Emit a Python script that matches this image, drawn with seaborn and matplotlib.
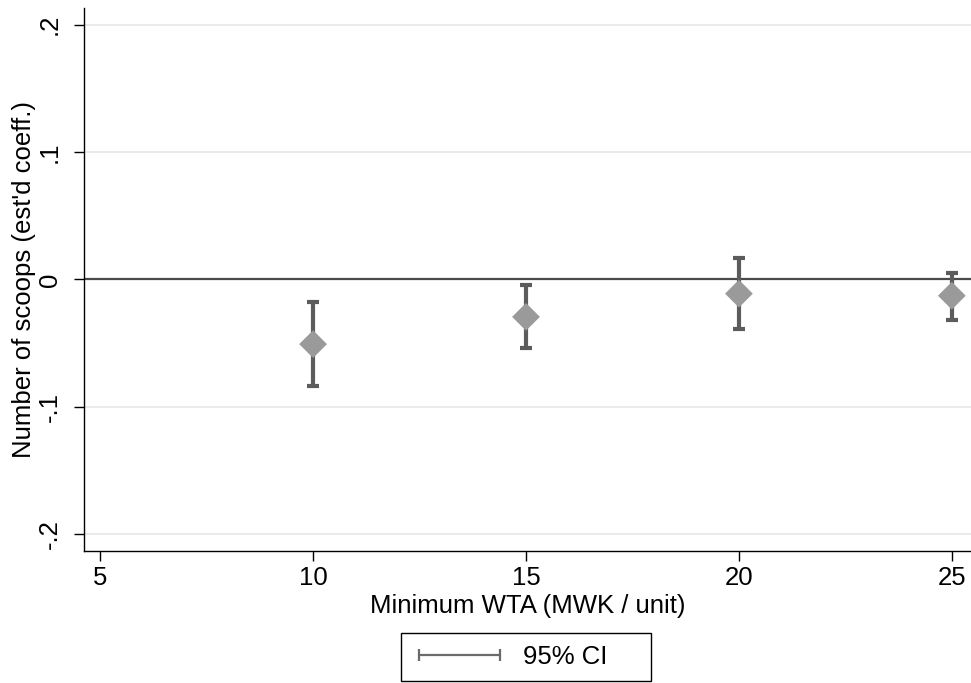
import matplotlib
matplotlib.use("Agg")
import matplotlib.pyplot as plt
import seaborn as sns
import pandas as pd
from matplotlib.lines import Line2D
from matplotlib.patches import Rectangle

# Estimates
wta = [10, 15, 20, 25]
coef = [-0.0508, -0.0294, -0.0112, -0.0128]
ci_low = [-0.0836, -0.054, -0.0393, -0.0315]
ci_high = [-0.018, -0.0042, 0.0167, 0.0052]
yticks = [-0.2, -0.1, 0.0, 0.1, 0.2]
ytick_labels = ["-.2", "-.1", "0", ".1", ".2"]
xticks = [5, 10, 15, 20, 25]

df = pd.DataFrame({"wta": wta, "coef": coef, "lo": ci_low, "hi": ci_high})

sns.set_style("white")
plt.rcParams["font.family"] = ["Liberation Sans", "DejaVu Sans"]
plt.rcParams["text.color"] = "black"
plt.rcParams["axes.labelcolor"] = "black"
plt.rcParams["xtick.color"] = "black"
plt.rcParams["ytick.color"] = "black"

fs = 18.5
fig = plt.figure(figsize=(9.71, 6.83), dpi=100)
ax = fig.add_axes([0.0865, 0.1937, 0.9135, 0.7943])

err_color = "#5c5c5c"
for y in [-0.2, -0.1, 0.1, 0.2]:
    ax.axhline(y, color="#e8e8e8", linewidth=1.2, zorder=0)
ax.axhline(0, color="#4a4a4a", linewidth=1.6, zorder=1)

ax.errorbar(df["wta"], df["coef"],
            yerr=[df["coef"] - df["lo"], df["hi"] - df["coef"]],
            fmt="none", ecolor=err_color, elinewidth=3, capsize=4.2, capthick=3, zorder=2)
sns.scatterplot(data=df, x="wta", y="coef", marker="D", s=200, color="#9a9a9a",
                edgecolor="none", ax=ax, zorder=3, legend=False)

ax.set_xlim(4.62, 25.45)
ax.set_ylim(-0.2129, 0.2128)
ax.set_xticks(xticks)
ax.set_xticklabels([str(x) for x in xticks], fontsize=fs)
ax.set_yticks(yticks)
ax.set_yticklabels(ytick_labels, fontsize=fs, rotation=90, va="center")
ax.tick_params(axis="both", direction="out", length=7.5, width=1, color="black",
               bottom=True, left=True)
ax.tick_params(axis="y", pad=8.5)
ax.tick_params(axis="x", pad=3.5)
ax.set_xlabel("Minimum WTA (MWK / unit)", fontsize=fs, labelpad=3)
ax.set_ylabel("Number of scoops (est'd coeff.)", fontsize=fs, labelpad=1)

for side in ["top", "right"]:
    ax.spines[side].set_visible(False)
for side in ["left", "bottom"]:
    ax.spines[side].set_color("black")
    ax.spines[side].set_linewidth(1)

# legend: capped line, box drawn separately (Stata-like wide box)
handle = Line2D([0], [0], color="#6a6a6a", linewidth=1.6, marker="|", markersize=8,
                markeredgewidth=1.6)
leg = fig.legend(handles=[handle], labels=["95% CI"], loc="center left",
                 bbox_to_anchor=(401 / 971, 26 / 683),
                 numpoints=2, handlelength=3.77, fontsize=fs, frameon=False,
                 borderpad=0.39, handletextpad=0.58, borderaxespad=0)
fig.add_artist(Rectangle((401 / 971, 2 / 683), 250 / 971, 48 / 683,
                         transform=fig.transFigure, fill=False,
                         edgecolor="black", linewidth=1))

fig.savefig("out.png", dpi=100)
